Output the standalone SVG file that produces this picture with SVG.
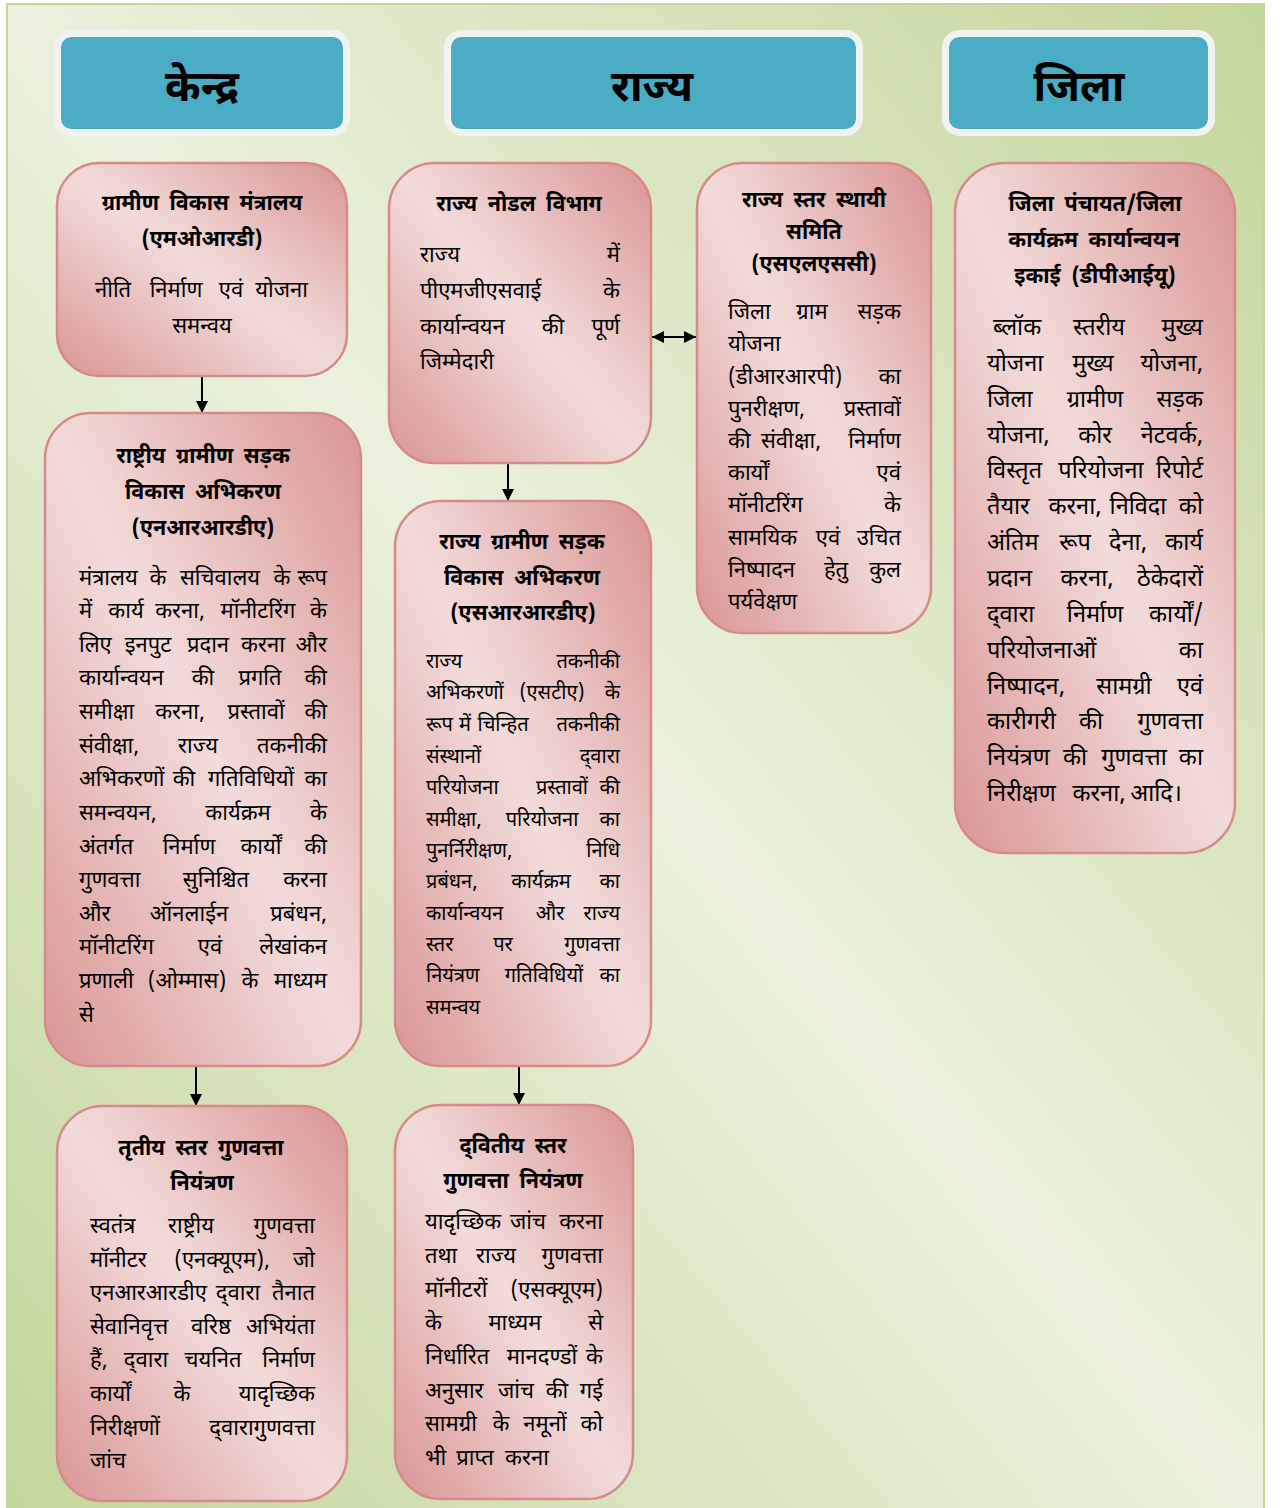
<svg xmlns="http://www.w3.org/2000/svg" width="1285" height="1508" viewBox="0 0 1285 1508">
<defs>
<linearGradient id="bg" x1="1" y1="0" x2="0" y2="1">
<stop offset="0" stop-color="#c3d69b"/>
<stop offset="0.5" stop-color="#ebf1de"/>
<stop offset="1" stop-color="#c3d69b"/>
</linearGradient>
<linearGradient id="pink" x1="1" y1="0" x2="0" y2="1">
<stop offset="0" stop-color="#d99594"/>
<stop offset="0.5" stop-color="#f2dcdb"/>
<stop offset="1" stop-color="#d99594"/>
</linearGradient>
<marker id="ah" markerUnits="userSpaceOnUse" markerWidth="12" markerHeight="12" refX="12" refY="6" orient="auto-start-reverse">
<path d="M0,0 L12,6 L0,12 z" fill="#000"/>
</marker>
</defs>
<style>
text{font-family:"Noto Sans Devanagari","Lohit Devanagari","Mangal","Noto Sans",sans-serif;fill:#000}
.h{font-size:43px;font-weight:bold;text-anchor:middle}
.t{font-size:21.5px;font-weight:bold;text-anchor:middle;word-spacing:5px}
.b{font-size:22px}
.s{font-size:20px}
.d{font-size:23.5px}
.m{text-anchor:middle}
.e{text-anchor:end}
.hdr{fill:#4bacc6;stroke:#f2f2f2;stroke-width:7}
.box{fill:url(#pink);stroke:#d68a8a;stroke-width:2.5}
.c{stroke:#000;stroke-width:2;fill:none;marker-end:url(#ah)}
</style>
<rect x="7" y="4" width="1257" height="1510" fill="url(#bg)" stroke="#c3d69b" stroke-width="2"/>

<g id="hdr-kendra"><rect class="hdr" x="57.5" y="33.5" width="289" height="99" rx="14"/><text class="h" x="202" y="101">केन्द्र</text></g>
<g id="hdr-rajya"><rect class="hdr" x="447.5" y="33.5" width="412" height="99" rx="14"/><text class="h" x="652" y="101">राज्य</text></g>
<g id="hdr-jila"><rect class="hdr" x="945.5" y="33.5" width="266" height="99" rx="14"/><text class="h" x="1079" y="101">जिला</text></g>

<g id="connectors">
<line class="c" x1="202" y1="377" x2="202" y2="413"/>
<line class="c" x1="196" y1="1066" x2="196" y2="1106"/>
<line class="c" x1="508" y1="463" x2="508" y2="501"/>
<line class="c" x1="519" y1="1066" x2="519" y2="1105"/>
<line class="c" x1="652" y1="337" x2="696" y2="337" marker-start="url(#ah)"/>
</g>

<g id="n-mord">
<rect class="box" x="57" y="163" width="290" height="213" rx="42"/>
<text class="t" x="202" y="210">ग्रामीण विकास मंत्रालय</text>
<text class="t" x="202" y="246">(एमओआरडी)</text>
<text class="b" y="297"><tspan x="95">नीति</tspan><tspan class="m" x="176">निर्माण</tspan><tspan class="m" x="231">एवं</tspan><tspan class="e" x="308">योजना</tspan></text>
<text class="b m" x="202" y="333">समन्वय</text>
</g>

<g id="n-nrrda">
<rect class="box" x="45" y="413" width="316" height="653" rx="46"/>
<text class="t" x="203" y="463">राष्ट्रीय ग्रामीण सड़क</text>
<text class="t" x="203" y="499">विकास अभिकरण</text>
<text class="t" x="203" y="535">(एनआरआरडीए)</text>
<text class="b" y="585"><tspan x="79">मंत्रालय</tspan><tspan class="m" x="158">के</tspan><tspan class="m" x="220">सचिवालय</tspan><tspan class="m" x="282">के</tspan><tspan class="e" x="327">रूप</tspan></text>
<text class="b" y="618"><tspan x="79">में</tspan><tspan class="m" x="126">कार्य</tspan><tspan class="m" x="180">करना,</tspan><tspan class="m" x="258">मॉनीटरिंग</tspan><tspan class="e" x="327">के</tspan></text>
<text class="b" y="652"><tspan x="79">लिए</tspan><tspan class="m" x="148">इनपुट</tspan><tspan class="m" x="208">प्रदान</tspan><tspan class="m" x="263">करना</tspan><tspan class="e" x="327">और</tspan></text>
<text class="b" y="685"><tspan x="79">कार्यान्वयन</tspan><tspan class="m" x="203">की</tspan><tspan class="m" x="260">प्रगति</tspan><tspan class="e" x="327">की</tspan></text>
<text class="b" y="719"><tspan x="79">समीक्षा</tspan><tspan class="m" x="180">करना,</tspan><tspan class="m" x="256">प्रस्तावों</tspan><tspan class="e" x="327">की</tspan></text>
<text class="b" y="753"><tspan x="79">संवीक्षा,</tspan><tspan class="m" x="198">राज्य</tspan><tspan class="e" x="327">तकनीकी</tspan></text>
<text class="b" y="786"><tspan x="79">अभिकरणों</tspan><tspan class="m" x="184">की</tspan><tspan class="m" x="251">गतिविधियों</tspan><tspan class="e" x="327">का</tspan></text>
<text class="b" y="820"><tspan x="79">समन्वयन,</tspan><tspan class="m" x="238">कार्यक्रम</tspan><tspan class="e" x="327">के</tspan></text>
<text class="b" y="854"><tspan x="79">अंतर्गत</tspan><tspan class="m" x="189">निर्माण</tspan><tspan class="m" x="261">कार्यों</tspan><tspan class="e" x="327">की</tspan></text>
<text class="b" y="887"><tspan x="79">गुणवत्ता</tspan><tspan class="m" x="216">सुनिश्चित</tspan><tspan class="e" x="327">करना</tspan></text>
<text class="b" y="921"><tspan x="79">और</tspan><tspan class="m" x="189">ऑनलाईन</tspan><tspan class="e" x="327">प्रबंधन,</tspan></text>
<text class="b" y="954"><tspan x="79">मॉनीटरिंग</tspan><tspan class="m" x="210">एवं</tspan><tspan class="e" x="327">लेखांकन</tspan></text>
<text class="b" y="988"><tspan x="79">प्रणाली</tspan><tspan class="m" x="187">(ओम्मास)</tspan><tspan class="m" x="250">के</tspan><tspan class="e" x="327">माध्यम</tspan></text>
<text class="b" x="79" y="1022">से</text>
</g>

<g id="n-tertiary">
<rect class="box" x="57" y="1106" width="290" height="395" rx="46"/>
<text class="t" x="201" y="1155">तृतीय स्तर गुणवत्ता</text>
<text class="t" x="202" y="1190">नियंत्रण</text>
<text class="b" y="1233"><tspan x="90">स्वतंत्र</tspan><tspan class="m" x="191">राष्ट्रीय</tspan><tspan class="e" x="315">गुणवत्ता</tspan></text>
<text class="b" y="1267"><tspan x="90">मॉनीटर</tspan><tspan class="m" x="222">(एनक्यूएम),</tspan><tspan class="e" x="315">जो</tspan></text>
<text class="b" y="1300"><tspan x="90">एनआरआरडीए</tspan><tspan class="m" x="238">द्‌वारा</tspan><tspan class="e" x="315">तैनात</tspan></text>
<text class="b" y="1334"><tspan x="90">सेवानिवृत्त</tspan><tspan class="m" x="211">वरिष्ठ</tspan><tspan class="e" x="315">अभियंता</tspan></text>
<text class="b" y="1367"><tspan x="90">हैं,</tspan><tspan class="m" x="146">द्‌वारा</tspan><tspan class="m" x="213">चयनित</tspan><tspan class="e" x="315">निर्माण</tspan></text>
<text class="b" y="1401"><tspan x="90">कार्यों</tspan><tspan class="m" x="182">के</tspan><tspan class="e" x="315">यादृच्छिक</tspan></text>
<text class="b" y="1435"><tspan x="90">निरीक्षणों</tspan><tspan class="e" x="315">द्‌वारागुणवत्ता</tspan></text>
<text class="b" x="90" y="1468">जांच</text>
</g>

<g id="n-nodal">
<rect class="box" x="389" y="163" width="262" height="300" rx="46"/>
<text class="t" x="519" y="211">राज्य नोडल विभाग</text>
<text class="b" y="262"><tspan x="420">राज्य</tspan><tspan class="e" x="620">में</tspan></text>
<text class="b" y="298"><tspan x="420">पीएमजीएसवाई</tspan><tspan class="e" x="620">के</tspan></text>
<text class="b" y="334"><tspan x="420">कार्यान्वयन</tspan><tspan class="m" x="553">की</tspan><tspan class="e" x="620">पूर्ण</tspan></text>
<text class="b" x="420" y="369">जिम्मेदारी</text>
</g>

<g id="n-srrda">
<rect class="box" x="395" y="501" width="256" height="565" rx="46"/>
<text class="t" x="522" y="549">राज्य ग्रामीण सड़क</text>
<text class="t" x="522" y="585">विकास अभिकरण</text>
<text class="t" x="523" y="620">(एसआरआरडीए)</text>
<text class="s" y="668"><tspan x="426">राज्य</tspan><tspan class="e" x="620">तकनीकी</tspan></text>
<text class="s" y="699"><tspan x="426">अभिकरणों</tspan><tspan class="m" x="552">(एसटीए)</tspan><tspan class="e" x="620">के</tspan></text>
<text class="s" y="731"><tspan x="426">रूप</tspan><tspan class="m" x="465">में</tspan><tspan class="m" x="503">चिन्हित</tspan><tspan class="e" x="620">तकनीकी</tspan></text>
<text class="s" y="763"><tspan x="426">संस्थानों</tspan><tspan class="e" x="620">द्‌वारा</tspan></text>
<text class="s" y="794"><tspan x="426">परियोजना</tspan><tspan class="m" x="562">प्रस्तावों</tspan><tspan class="e" x="620">की</tspan></text>
<text class="s" y="826"><tspan x="426">समीक्षा,</tspan><tspan class="m" x="542">परियोजना</tspan><tspan class="e" x="620">का</tspan></text>
<text class="s" y="857"><tspan x="426">पुनर्निरीक्षण,</tspan><tspan class="e" x="620">निधि</tspan></text>
<text class="s" y="888"><tspan x="426">प्रबंधन,</tspan><tspan class="m" x="541">कार्यक्रम</tspan><tspan class="e" x="620">का</tspan></text>
<text class="s" y="920"><tspan x="426">कार्यान्वयन</tspan><tspan class="m" x="550">और</tspan><tspan class="e" x="620">राज्य</tspan></text>
<text class="s" y="951"><tspan x="426">स्तर</tspan><tspan class="m" x="503">पर</tspan><tspan class="e" x="620">गुणवत्ता</tspan></text>
<text class="s" y="982"><tspan x="426">नियंत्रण</tspan><tspan class="m" x="544">गतिविधियों</tspan><tspan class="e" x="620">का</tspan></text>
<text class="s" x="426" y="1014">समन्वय</text>
</g>

<g id="n-secondary">
<rect class="box" x="395" y="1105" width="238" height="394" rx="46"/>
<text class="t" x="513" y="1153">द्‌वितीय स्तर</text>
<text class="t" x="513" y="1188">गुणवत्ता नियंत्रण</text>
<text class="b" y="1229"><tspan x="425">यादृच्छिक</tspan><tspan class="m" x="528">जांच</tspan><tspan class="e" x="603">करना</tspan></text>
<text class="b" y="1263"><tspan x="425">तथा</tspan><tspan class="m" x="496">राज्य</tspan><tspan class="e" x="603">गुणवत्ता</tspan></text>
<text class="b" y="1297"><tspan x="425">मॉनीटरों</tspan><tspan class="e" x="603">(एसक्यूएम)</tspan></text>
<text class="b" y="1330"><tspan x="425">के</tspan><tspan class="m" x="515">माध्यम</tspan><tspan class="e" x="603">से</tspan></text>
<text class="b" y="1364"><tspan x="425">निर्धारित</tspan><tspan class="m" x="542">मानदण्डों</tspan><tspan class="e" x="603">के</tspan></text>
<text class="b" y="1398"><tspan x="425">अनुसार</tspan><tspan class="m" x="516">जांच</tspan><tspan class="m" x="557">की</tspan><tspan class="e" x="603">गई</tspan></text>
<text class="b" y="1431"><tspan x="425">सामग्री</tspan><tspan class="m" x="501">के</tspan><tspan class="m" x="545">नमूनों</tspan><tspan class="e" x="603">को</tspan></text>
<text class="b" y="1465"><tspan x="425">भी</tspan><tspan class="m" x="475">प्राप्त</tspan><tspan class="m" x="527">करना</tspan></text>
</g>

<g id="n-slsc">
<rect class="box" x="697" y="163" width="234" height="470" rx="46"/>
<text class="t" x="814" y="207">राज्य स्तर स्थायी</text>
<text class="t" x="814" y="239">समिति</text>
<text class="t" x="814" y="271">(एसएलएससी)</text>
<text class="b" y="319"><tspan x="728">जिला</tspan><tspan class="m" x="812">ग्राम</tspan><tspan class="e" x="901">सड़क</tspan></text>
<text class="b" x="728" y="351">योजना</text>
<text class="b" y="384"><tspan x="728">(डीआरआरपी)</tspan><tspan class="e" x="901">का</tspan></text>
<text class="b" y="416"><tspan x="728">पुनरीक्षण,</tspan><tspan class="e" x="901">प्रस्तावों</tspan></text>
<text class="b" y="448"><tspan x="728">की</tspan><tspan class="m" x="791">संवीक्षा,</tspan><tspan class="e" x="901">निर्माण</tspan></text>
<text class="b" y="480"><tspan x="728">कार्यों</tspan><tspan class="e" x="901">एवं</tspan></text>
<text class="b" y="512"><tspan x="728">मॉनीटरिंग</tspan><tspan class="e" x="901">के</tspan></text>
<text class="b" y="545"><tspan x="728">सामयिक</tspan><tspan class="m" x="828">एवं</tspan><tspan class="e" x="901">उचित</tspan></text>
<text class="b" y="577"><tspan x="728">निष्पादन</tspan><tspan class="m" x="836">हेतु</tspan><tspan class="e" x="901">कुल</tspan></text>
<text class="b" x="728" y="609">पर्यवेक्षण</text>
</g>

<g id="n-dpiu">
<rect class="box" x="955" y="163" width="280" height="690" rx="50"/>
<text class="t" x="1095" y="211">जिला पंचायत/जिला</text>
<text class="t" x="1094" y="247">कार्यक्रम कार्यान्वयन</text>
<text class="t" x="1095" y="283">इकाई (डीपीआईयू)</text>
<text class="d" y="335"><tspan x="993">ब्लॉक</tspan><tspan class="m" x="1099">स्तरीय</tspan><tspan class="e" x="1203">मुख्य</tspan></text>
<text class="d" y="371"><tspan x="987">योजना</tspan><tspan class="m" x="1093">मुख्य</tspan><tspan class="e" x="1203">योजना,</tspan></text>
<text class="d" y="407"><tspan x="987">जिला</tspan><tspan class="m" x="1095">ग्रामीण</tspan><tspan class="e" x="1203">सड़क</tspan></text>
<text class="d" y="443"><tspan x="987">योजना,</tspan><tspan class="m" x="1095">कोर</tspan><tspan class="e" x="1203">नेटवर्क,</tspan></text>
<text class="d" y="478"><tspan x="987">विस्तृत</tspan><tspan class="m" x="1101">परियोजना</tspan><tspan class="e" x="1203">रिपोर्ट</tspan></text>
<text class="d" y="514"><tspan x="987">तैयार</tspan><tspan class="m" x="1075">करना,</tspan><tspan class="m" x="1138">निविदा</tspan><tspan class="e" x="1203">को</tspan></text>
<text class="d" y="550"><tspan x="987">अंतिम</tspan><tspan class="m" x="1075">रूप</tspan><tspan class="m" x="1128">देना,</tspan><tspan class="e" x="1203">कार्य</tspan></text>
<text class="d" y="586"><tspan x="987">प्रदान</tspan><tspan class="m" x="1087">करना,</tspan><tspan class="e" x="1203">ठेकेदारों</tspan></text>
<text class="d" y="622"><tspan x="987">द्‌वारा</tspan><tspan class="m" x="1095">निर्माण</tspan><tspan class="e" x="1203">कार्यों/</tspan></text>
<text class="d" y="658"><tspan x="987">परियोजनाओं</tspan><tspan class="e" x="1203">का</tspan></text>
<text class="d" y="694"><tspan x="987">निष्पादन,</tspan><tspan class="m" x="1124">सामग्री</tspan><tspan class="e" x="1203">एवं</tspan></text>
<text class="d" y="729"><tspan x="987">कारीगरी</tspan><tspan class="m" x="1091">की</tspan><tspan class="e" x="1203">गुणवत्ता</tspan></text>
<text class="d" y="765"><tspan x="987">नियंत्रण</tspan><tspan class="m" x="1075">की</tspan><tspan class="m" x="1134">गुणवत्ता</tspan><tspan class="e" x="1203">का</tspan></text>
<text class="d" y="801"><tspan x="987">निरीक्षण</tspan><tspan class="m" x="1099">करना,</tspan><tspan class="m" x="1156">आदि।</tspan></text>
</g>
</svg>
